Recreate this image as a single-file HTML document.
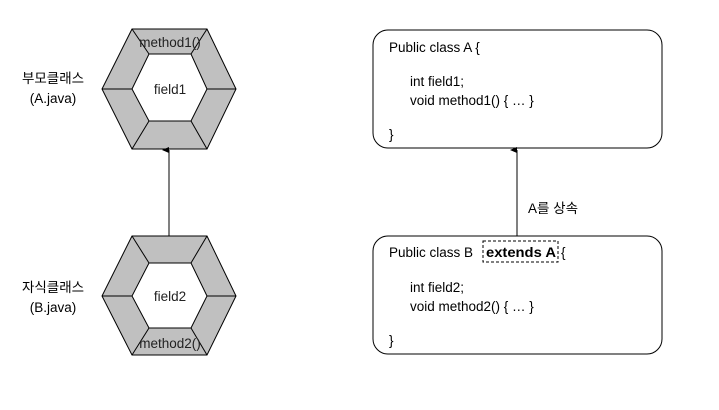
<!DOCTYPE html>
<html><head><meta charset="utf-8"><style>
body{margin:0;background:#fff;}
</style></head><body>
<svg width="719" height="405" xmlns="http://www.w3.org/2000/svg" font-family="'Liberation Sans','Noto Sans CJK KR',sans-serif" font-size="13.5">
<rect width="719" height="405" fill="#fff"/>
<defs><marker id="a" markerWidth="8" markerHeight="8" refX="4" refY="7" orient="auto" markerUnits="userSpaceOnUse"><path d="M1,7 L4,0 L7,7 Z" fill="#000"/></marker></defs>
<g stroke="#000" stroke-width="1">
<polygon points="132,29 207,29 236,89 207,149 132,149 102,89" fill="#c0c0c0"/>
<polygon points="149,54 191,54 207,89 191,121 149,121 132,89" fill="#fff"/>
<line x1="132" y1="29" x2="149" y2="54"/><line x1="207" y1="29" x2="191" y2="54"/>
<line x1="236" y1="89" x2="207" y2="89"/><line x1="207" y1="149" x2="191" y2="121"/>
<line x1="132" y1="149" x2="149" y2="121"/><line x1="102" y1="89" x2="132" y2="89"/>
</g>
<text x="170" y="47" text-anchor="middle" fill="#222">method1()</text>
<text x="170" y="94" text-anchor="middle" fill="#222">field1</text>
<g stroke="#000" stroke-width="1">
<polygon points="132,236 207,236 236,296 207,355 132,355 102,296" fill="#c0c0c0"/>
<polygon points="149,263 191,263 207,296 191,328 149,328 132,296" fill="#fff"/>
<line x1="132" y1="236" x2="149" y2="263"/><line x1="207" y1="236" x2="191" y2="263"/>
<line x1="236" y1="296" x2="207" y2="296"/><line x1="207" y1="355" x2="191" y2="328"/>
<line x1="132" y1="355" x2="149" y2="328"/><line x1="102" y1="296" x2="132" y2="296"/>
</g>
<text x="170" y="301" text-anchor="middle" fill="#222">field2</text>
<text x="170" y="348" text-anchor="middle" fill="#222">method2()</text>
<line x1="169" y1="236" x2="169" y2="150" stroke="#000" marker-end="url(#a)"/>
<text x="53" y="83" text-anchor="middle">부모클래스</text>
<text x="53" y="103" text-anchor="middle">(A.java)</text>
<text x="53" y="292" text-anchor="middle">자식클래스</text>
<text x="53" y="312" text-anchor="middle">(B.java)</text>
<rect x="373" y="30" width="289" height="118" rx="15" fill="#fff" stroke="#000"/>
<rect x="373" y="236" width="289" height="118" rx="15" fill="#fff" stroke="#000"/>
<line x1="517" y1="236" x2="517" y2="150" stroke="#000" marker-end="url(#a)"/>
<text x="528" y="213">A를 상속</text>
<text x="389" y="52">Public class A {</text>
<text x="410" y="86">int field1;</text>
<text x="410" y="105">void method1() { … }</text>
<text x="389" y="139">}</text>
<text x="389" y="257">Public class B</text>
<text x="486" y="257" font-weight="bold" font-size="14" textLength="70" lengthAdjust="spacingAndGlyphs">extends A</text>
<text x="561" y="257">{</text>
<rect x="483" y="241" width="75" height="21" fill="none" stroke="#000" stroke-dasharray="3,2"/>
<text x="410" y="292">int field2;</text>
<text x="410" y="311">void method2() { … }</text>
<text x="389" y="345">}</text>
</svg>
</body></html>
